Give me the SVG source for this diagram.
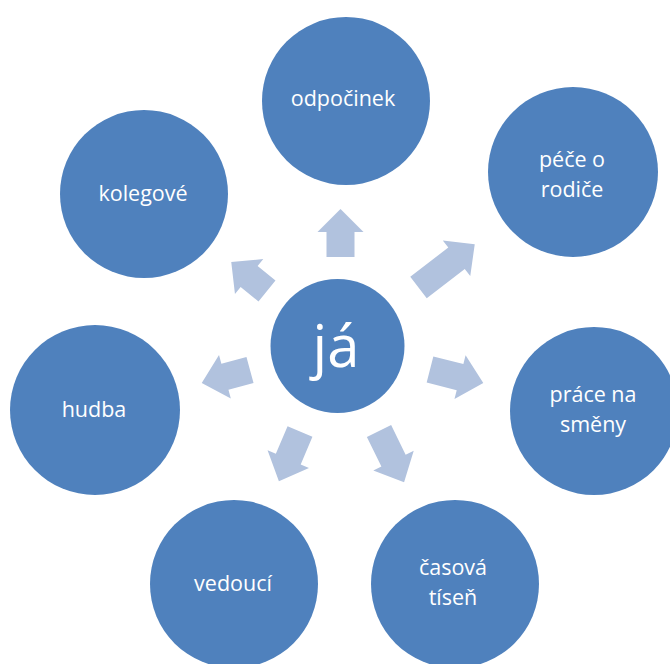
<svg xmlns="http://www.w3.org/2000/svg" width="670" height="664" viewBox="0 0 670 664">
<style>
.n{fill:#4F81BD}
.t{fill:#FFFFFF;font-family:"Open Sans","Liberation Sans",sans-serif;font-size:21.5px;text-anchor:middle}
.a{fill:#B1C2DE}
</style>
<rect width="670" height="664" fill="#FFFFFF"/>
<g id="connectors">
<polygon class="a" transform="translate(340.5,257) rotate(-90)" points="0,-14 25,-14 25,-23 48,0 25,23 25,14 0,14"/>
<polygon class="a" transform="translate(418.5,287.5) rotate(-37.6)" points="0,-13.5 48,-13.5 48,-22.5 71,0 48,22.5 48,13.5 0,13.5"/>
<polygon class="a" transform="translate(430,369.5) rotate(14.3)" points="0,-13.5 31,-13.5 31,-22.5 55,0 31,22.5 31,13.5 0,13.5"/>
<polygon class="a" transform="translate(379,431) rotate(63.9)" points="0,-13.5 33,-13.5 33,-22.5 57,0 33,22.5 33,13.5 0,13.5"/>
<polygon class="a" transform="translate(300,431.5) rotate(113)" points="0,-13.5 30,-13.5 30,-22.5 54,0 30,22.5 30,13.5 0,13.5"/>
<polygon class="a" transform="translate(250,370) rotate(164.8)" points="0,-13.5 26,-13.5 26,-22.5 50,0 26,22.5 26,13.5 0,13.5"/>
<polygon class="a" transform="translate(267,291) rotate(-141)" points="0,-13.5 23,-13.5 23,-22.5 46,0 23,22.5 23,13.5 0,13.5"/>
</g>
<g id="ja"><circle class="n" cx="337.5" cy="346" r="67"/><text class="t" x="336" y="367" style="font-size:58px">já</text></g>
<g id="odpocinek"><circle class="n" cx="346" cy="101" r="84"/><text class="t" x="343" y="106">odpočinek</text></g>
<g id="pece"><circle class="n" cx="573" cy="172" r="85"/><text class="t" x="572" y="167">péče o</text><text class="t" x="572" y="197">rodiče</text></g>
<g id="prace"><circle class="n" cx="594" cy="411" r="84"/><text class="t" x="593" y="402">práce na</text><text class="t" x="593" y="432">směny</text></g>
<g id="casova"><circle class="n" cx="455" cy="584" r="84"/><text class="t" x="453" y="575">časová</text><text class="t" x="453" y="605">tíseň</text></g>
<g id="vedouci"><circle class="n" cx="234" cy="584" r="84"/><text class="t" x="233" y="591">vedoucí</text></g>
<g id="hudba"><circle class="n" cx="95" cy="410" r="85"/><text class="t" x="94" y="417">hudba</text></g>
<g id="kolegove"><circle class="n" cx="144" cy="194" r="84"/><text class="t" x="143" y="201">kolegové</text></g>
</svg>
